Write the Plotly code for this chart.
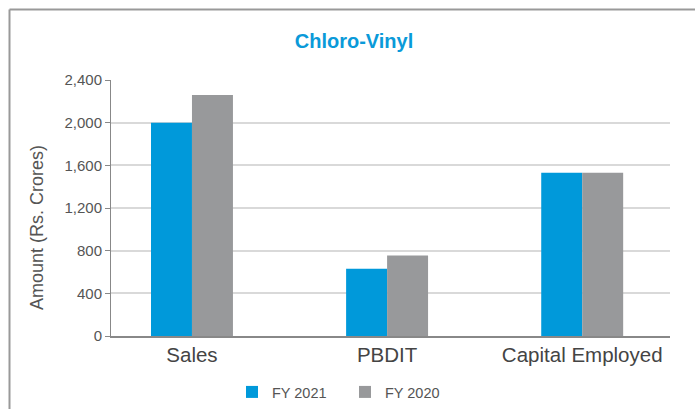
import plotly.graph_objects as go

categories = ["Sales", "PBDIT", "Capital Employed"]
fy2021 = [2000, 630, 1530]
fy2020 = [2260, 755, 1530]
y_ticks = [0, 400, 800, 1200, 1600, 2000, 2400]
y_tick_labels = ["0", "400", "800", "1,200", "1,600", "2,000", "2,400"]

W, H = 695, 409
L, R, T, B = 111, 25, 80, 73
pw, ph = W - L - R, H - T - B

def px(x):
    return (x - L) / pw

def py(y):
    return (H - B - y) / ph

FONT = "Liberation Sans, Arial, Helvetica, sans-serif"

fig = go.Figure()
fig.add_trace(go.Bar(name="FY 2021", x=categories, y=fy2021, marker=dict(color="#0099DA", line=dict(width=0))))
fig.add_trace(go.Bar(name="FY 2020", x=categories, y=fy2020, marker=dict(color="#98999B", line=dict(width=0))))

fig.update_layout(
    width=W, height=H,
    margin=dict(l=L, r=R, t=T, b=B, autoexpand=False),
    paper_bgcolor="white", plot_bgcolor="white",
    barmode="group", bargap=0.58, bargroupgap=0,
    font=dict(family=FONT, color="#555555"),
    title=dict(text="<b>Chloro-Vinyl</b>", x=354 / W, xanchor="center", xref="container",
               y=1 - 41 / H, yanchor="middle", yref="container",
               font=dict(size=20, color="#0A9AD9", family=FONT)),
    legend=dict(orientation="h", x=px(232), xanchor="left", y=py(392), yanchor="middle",
                font=dict(size=14.5, color="#555555"), entrywidth=68, entrywidthmode="pixels",
                bgcolor="rgba(0,0,0,0)"),
    showlegend=True,
)

fig.update_xaxes(
    range=[-0.415, 2.45], showgrid=False,
    showline=True, linecolor="#888888", linewidth=1.5,
    ticks="", tickfont=dict(size=20.5, color="#444444"),
    fixedrange=True,
)
fig.update_yaxes(
    range=[0, 2400], tickvals=y_ticks, ticktext=y_tick_labels,
    showgrid=True, gridcolor="#D9D9D9", gridwidth=1.5,
    showline=True, linecolor="#888888", linewidth=1,
    ticks="outside", ticklen=5, tickcolor="#888888",
    tickfont=dict(size=15, color="#555555"),
    zeroline=False,
)

fig.add_annotation(text="Amount (Rs. Crores)", textangle=-90, xref="paper", yref="paper",
                   x=px(37), y=py(228), xanchor="center", yanchor="middle", showarrow=False,
                   font=dict(size=18, color="#555555", family=FONT))

# outer frame (left and top edges)
fig.add_shape(type="line", xref="paper", yref="paper", x0=px(9.5), x1=px(9.5), y0=py(9.5), y1=py(430),
              line=dict(color="#999999", width=2))
fig.add_shape(type="line", xref="paper", yref="paper", x0=px(9.5), x1=px(720), y0=py(9.5), y1=py(9.5),
              line=dict(color="#999999", width=2))

fig.write_html("out.html", config={"displayModeBar": False},
               post_script="document.body.style.margin='0px';")
